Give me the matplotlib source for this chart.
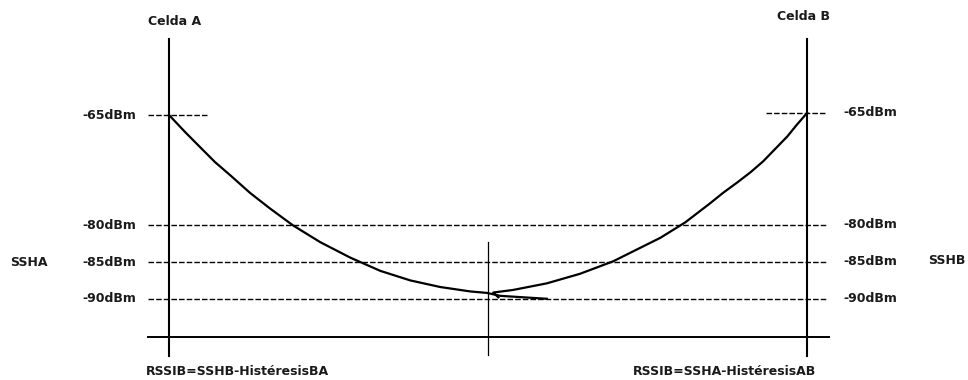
import matplotlib
matplotlib.use("Agg")
import matplotlib.pyplot as plt

# ---- data ----
cells = ["Celda A", "Celda B"]
cell_pos = [0, 100]
mid_pos = 50
levels = [-65, -80, -85, -90]
level_labels = ["-65dBm", "-80dBm", "-85dBm", "-90dBm"]
axis_label_left = "SSHA"
axis_label_right = "SSHB"
bottom_labels = ["RSSIB=SSHB-HistéresisBA", "RSSIB=SSHA-HistéresisAB"]

# signal of cell A (decays from A toward the middle)
ssa_x = [0, 2.5, 4.9, 7.2, 9.6, 12.7, 15.8, 19.4, 23.7, 28.4, 33.1, 37.8, 42.5, 47.2, 49.8, 51.9, 59.2]
ssa_db = [-65.0, -67.3, -69.4, -71.4, -73.2, -75.6, -77.7, -80.0, -82.3, -84.4, -86.2,
          -87.5, -88.4, -89.0, -89.2, -89.6, -90.0]
# signal of cell B (decays from B toward the middle)
ssb_x = [100, 98.4, 96.9, 95.0, 93.1, 91.1, 89.0, 86.8, 84.8, 80.9, 77.0, 69.6, 64.4,
         59.2, 53.9, 50.8, 51.6]
ssb_db = [-64.7, -66.3, -67.9, -69.6, -71.3, -72.8, -74.2, -75.6, -77.0, -79.6, -81.7,
          -84.9, -86.6, -87.9, -88.8, -89.15, -89.8]

fig = plt.figure(figsize=(9.68, 3.8), dpi=100)
ax = fig.add_axes([0, 0, 1, 1])
ax.set_xlim(-26.49, 125.2)
ax.set_ylim(-101.05, -49.35)
ax.axis("off")

font = dict(family="DejaVu Sans", fontsize=9, fontweight="bold", color="#1a1a1a")

# vertical cell lines
for x in cell_pos:
    ax.plot([x, x], [-97.8, -54.6], color="black", lw=1.5)
# middle vertical line
ax.plot([mid_pos, mid_pos], [-97.6, -82.3], color="black", lw=0.9)
# bottom axis line
ax.plot([-3.3, 103.4], [-95.2, -95.2], color="black", lw=1.4)

# dashed levels
dash = (0, (4, 1.5))
for lv in levels:
    if lv == -65:
        ax.plot([-3.3, 6.1], [lv, lv], color="black", lw=1.0, ls=dash)
        ax.plot([93.6, 102.8], [lv + 0.3, lv + 0.3], color="black", lw=1.0, ls=dash)
    else:
        ax.plot([-3.3, 103.0], [lv, lv], color="black", lw=1.0, ls=dash)

# curves
ax.plot(ssa_x, ssa_db, color="black", lw=1.6, solid_joinstyle="round")
ax.plot(ssb_x, ssb_db, color="black", lw=1.6, solid_joinstyle="round")

# level labels
for lv, lab in zip(levels, level_labels):
    ax.text(-5.2, lv, lab, ha="right", va="center", **font)
    ax.text(105.6, lv + (0.3 if lv == -65 else 0.1), lab, ha="left", va="center", **font)

ax.text(-24.9, -85, axis_label_left, ha="left", va="center", **font)
ax.text(118.9, -84.8, axis_label_right, ha="left", va="center", **font)

ax.text(0.9, -52.3, cells[0], ha="center", va="center", **font)
ax.text(99.4, -51.6, cells[1], ha="center", va="center", **font)

ax.text(-3.7, -99.9, bottom_labels[0], ha="left", va="center", **font)
ax.text(72.7, -99.9, bottom_labels[1], ha="left", va="center", **font)

fig.savefig("out.png", dpi=100, facecolor="white")
